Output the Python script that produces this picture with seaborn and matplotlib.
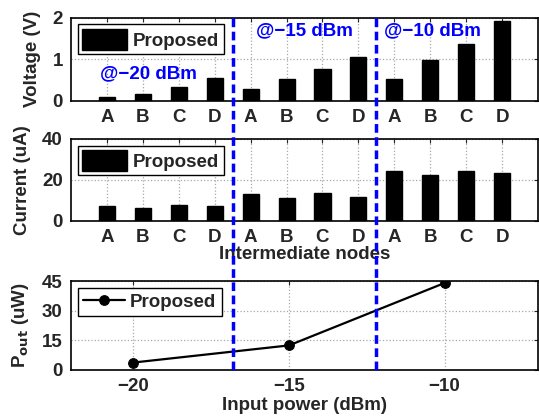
import seaborn as sns
import matplotlib.pyplot as plt
from matplotlib.lines import Line2D
import pandas as pd

# values
nodes = ["A", "B", "C", "D"] * 3
slots = list(range(1, 13))
voltage = [0.08, 0.16, 0.33, 0.55, 0.27, 0.52, 0.77, 1.06, 0.52, 0.99, 1.37, 1.92]
current = [7.5, 6.3, 8.0, 7.1, 13.3, 11.3, 13.6, 11.8, 24.2, 22.6, 24.5, 23.4]
input_power = [-20, -15, -10]
pout = [3.7, 12.4, 44.1]
power_labels = ["@\u221220 dBm", "@\u221215 dBm", "@\u221210 dBm"]

bars = pd.DataFrame({"slot": slots, "node": nodes, "voltage": voltage, "current": current})
pw = pd.DataFrame({"pin": input_power, "pout": pout, "series": "Proposed"})

FS = 13.5

sns.set_style("white")
plt.rcParams["font.family"] = ["Liberation Sans", "DejaVu Sans"]
plt.rcParams["font.weight"] = "bold"
plt.rcParams["font.size"] = FS
plt.rcParams["axes.labelweight"] = "bold"
plt.rcParams["axes.unicode_minus"] = True

fig = plt.figure(figsize=(5.39, 4.16), dpi=100)
left, width = 0.132, 0.866
ax1 = fig.add_axes([left, 0.758, width, 0.199])
ax2 = fig.add_axes([left, 0.469, width, 0.197])
ax3 = fig.add_axes([left, 0.111, width, 0.213])

grid_kw = dict(color="#a8a8a8", linestyle=":", linewidth=0.9)


def style(ax):
    for s in ax.spines.values():
        s.set_color("black")
        s.set_linewidth(1.2)
    ax.tick_params(direction="in", length=3, width=0.8, top=True, right=True,
                   labelsize=FS, pad=6)
    for lab in ax.get_xticklabels() + ax.get_yticklabels():
        lab.set_fontweight("bold")
    ax.grid(True, **grid_kw)
    ax.set_axisbelow(True)


def bar_legend(ax):
    leg = ax.legend(loc="upper left", fancybox=False, framealpha=1, edgecolor="black",
                    handlelength=2.4, handleheight=1.3, borderpad=0.25,
                    handletextpad=0.3, borderaxespad=0.35,
                    prop={"weight": "bold", "size": FS})
    leg.get_frame().set_linewidth(1.0)


# voltage bars
sns.barplot(data=bars, x="slot", y="voltage", native_scale=True, width=0.45,
            color="black", edgecolor="black", saturation=1, label="Proposed", ax=ax1)
ax1.set_xlim(0, 13)
ax1.set_ylim(0, 2)
ax1.set_yticks([0, 1, 2])
ax1.set_xticks(slots)
ax1.set_xticklabels(nodes)
ax1.set_xlabel("")
ax1.set_ylabel("Voltage (V)", fontsize=FS, labelpad=8)
style(ax1)
bar_legend(ax1)
ax1.text(0.8, 0.65, power_labels[0], color="#0000ff", fontsize=FS, fontweight="bold",
         ha="left", va="center")
ax1.text(5.15, 1.68, power_labels[1], color="#0000ff", fontsize=FS, fontweight="bold",
         ha="left", va="center")
ax1.text(8.7, 1.68, power_labels[2], color="#0000ff", fontsize=FS, fontweight="bold",
         ha="left", va="center")

# current bars
sns.barplot(data=bars, x="slot", y="current", native_scale=True, width=0.45,
            color="black", edgecolor="black", saturation=1, label="Proposed", ax=ax2)
ax2.set_xlim(0, 13)
ax2.set_ylim(0, 40)
ax2.set_yticks([0, 20, 40])
ax2.set_xticks(slots)
ax2.set_xticklabels(nodes)
ax2.set_xlabel("Intermediate nodes", fontsize=FS, labelpad=0)
ax2.set_ylabel("Current (uA)", fontsize=FS, labelpad=8)
style(ax2)
bar_legend(ax2)

# output power line
sns.lineplot(data=pw, x="pin", y="pout", color="black", marker="o", markersize=7,
             markeredgecolor="black", linewidth=1.6, label="Proposed", ax=ax3)
ax3.set_xlim(-22, -7)
ax3.set_ylim(0, 45)
ax3.set_yticks([0, 15, 30, 45])
ax3.set_xticks(input_power)
ax3.set_xlabel("Input power (dBm)", fontsize=FS, labelpad=1)
ax3.set_ylabel("P$_{\\mathbf{out}}$ (uW)", fontsize=FS, labelpad=8)
style(ax3)
leg = ax3.legend(loc="upper left", fancybox=False, framealpha=1, edgecolor="black",
                 handlelength=2.2, borderpad=0.3, handletextpad=0.3, borderaxespad=0.35,
                 prop={"weight": "bold", "size": FS})
leg.get_frame().set_linewidth(1.0)

# align y labels
fig.align_ylabels([ax1, ax2, ax3])

# blue dashed separators across all panels
for xs in (4.5, 8.5):
    xf = ax1.transAxes.inverted().transform(ax1.transData.transform((xs, 0)))[0]
    xfig = left + xf * width
    fig.add_artist(Line2D([xfig, xfig], [0.957, 0.104], transform=fig.transFigure,
                          color="#0000ff", linewidth=2.5, linestyle=(0, (2.5, 1.3))))

fig.savefig("out.png", dpi=100)
